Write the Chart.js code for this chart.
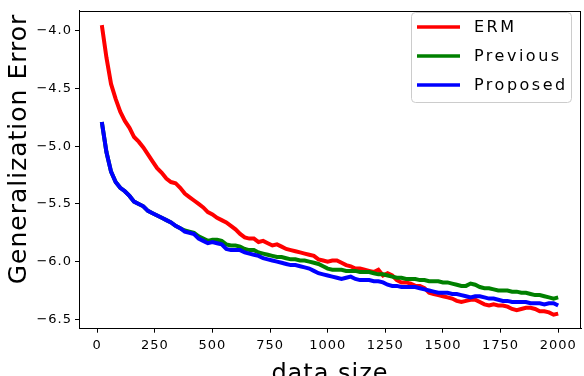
<!DOCTYPE html>
<html>
<head>
<meta charset="utf-8">
<script src="https://cdn.jsdelivr.net/npm/chart.js@4/dist/chart.umd.min.js"></script>
<style>
  html, body { margin: 0; padding: 0; background: #fff; }
  canvas { display: block; }
</style>
</head>
<body>
<canvas id="chart" width="584" height="376"></canvas>
<script>
// data
const dataSizes = [
  20, 40, 60, 80, 100, 120, 140, 160, 180, 200,
  220, 240, 260, 280, 300, 320, 340, 360, 380, 400,
  420, 440, 460, 480, 500, 520, 540, 560, 580, 600,
  620, 640, 660, 680, 700, 720, 740, 760, 780, 800,
  820, 840, 860, 880, 900, 920, 940, 960, 980, 1000,
  1020, 1040, 1060, 1080, 1100, 1120, 1140, 1160, 1180, 1200,
  1220, 1240, 1260, 1280, 1300, 1320, 1340, 1360, 1380, 1400,
  1420, 1440, 1460, 1480, 1500, 1520, 1540, 1560, 1580, 1600,
  1620, 1640, 1660, 1680, 1700, 1720, 1740, 1760, 1780, 1800,
  1820, 1840, 1860, 1880, 1900, 1920, 1940, 1960, 1980, 2000
];
const ermErr = [
  -3.95, -4.23, -4.46, -4.59, -4.70, -4.78, -4.84, -4.92, -4.96, -5.01,
  -5.07, -5.13, -5.19, -5.23, -5.28, -5.31, -5.32, -5.36, -5.41, -5.44,
  -5.47, -5.50, -5.53, -5.57, -5.59, -5.62, -5.64, -5.66, -5.69, -5.72,
  -5.76, -5.79, -5.80, -5.80, -5.83, -5.82, -5.84, -5.86, -5.85, -5.87,
  -5.89, -5.90, -5.91, -5.92, -5.93, -5.94, -5.95, -5.98, -5.99, -6.00,
  -5.99, -5.99, -6.01, -6.03, -6.04, -6.06, -6.06, -6.07, -6.08, -6.09,
  -6.07, -6.12, -6.10, -6.12, -6.16, -6.18, -6.18, -6.19, -6.21, -6.21,
  -6.23, -6.27, -6.28, -6.29, -6.30, -6.31, -6.32, -6.34, -6.35, -6.34,
  -6.33, -6.33, -6.35, -6.37, -6.38, -6.37, -6.38, -6.38, -6.39, -6.41,
  -6.42, -6.41, -6.40, -6.40, -6.41, -6.43, -6.43, -6.44, -6.46, -6.45
];
const previousErr = [
  -4.79, -5.05, -5.22, -5.31, -5.36, -5.39, -5.43, -5.48, -5.50, -5.52,
  -5.56, -5.58, -5.60, -5.62, -5.64, -5.66, -5.69, -5.71, -5.73, -5.74,
  -5.75, -5.78, -5.80, -5.82, -5.81, -5.81, -5.82, -5.85, -5.86, -5.86,
  -5.87, -5.89, -5.90, -5.90, -5.92, -5.93, -5.94, -5.95, -5.96, -5.96,
  -5.97, -5.98, -5.98, -5.99, -5.99, -6.00, -6.01, -6.02, -6.04, -6.06,
  -6.07, -6.07, -6.07, -6.08, -6.08, -6.08, -6.09, -6.09, -6.09, -6.10,
  -6.11, -6.11, -6.12, -6.13, -6.14, -6.14, -6.15, -6.15, -6.15, -6.16,
  -6.16, -6.17, -6.17, -6.17, -6.18, -6.18, -6.19, -6.20, -6.21, -6.21,
  -6.19, -6.20, -6.22, -6.23, -6.23, -6.24, -6.25, -6.25, -6.25, -6.26,
  -6.26, -6.27, -6.27, -6.28, -6.29, -6.29, -6.30, -6.31, -6.32, -6.31
];
const proposedErr = [
  -4.79, -5.05, -5.22, -5.31, -5.36, -5.39, -5.43, -5.48, -5.50, -5.52,
  -5.56, -5.58, -5.60, -5.62, -5.64, -5.66, -5.69, -5.71, -5.74, -5.75,
  -5.76, -5.80, -5.82, -5.84, -5.83, -5.84, -5.85, -5.89, -5.90, -5.90,
  -5.90, -5.92, -5.93, -5.94, -5.95, -5.97, -5.98, -5.99, -6.00, -6.01,
  -6.02, -6.03, -6.03, -6.04, -6.05, -6.06, -6.08, -6.10, -6.11, -6.12,
  -6.13, -6.14, -6.15, -6.14, -6.13, -6.15, -6.16, -6.16, -6.16, -6.17,
  -6.17, -6.18, -6.20, -6.21, -6.21, -6.22, -6.22, -6.22, -6.22, -6.23,
  -6.24, -6.25, -6.26, -6.27, -6.27, -6.27, -6.28, -6.28, -6.29, -6.30,
  -6.31, -6.30, -6.30, -6.31, -6.32, -6.32, -6.33, -6.34, -6.34, -6.35,
  -6.35, -6.35, -6.35, -6.36, -6.36, -6.36, -6.37, -6.36, -6.36, -6.38
];
const seriesNames = ['ERM', 'Previous', 'Proposed'];
const seriesColors = ['#ff0000', '#008000', '#0000ff'];
const xTicks = [0, 250, 500, 750, 1000, 1250, 1500, 1750, 2000];
const yTicks = [-6.5, -6.0, -5.5, -5.0, -4.5, -4.0];
const xTitle = 'data size';
const yTitle = 'Generalization Error';

const FONT = 'DejaVu Sans';
const fmtTick = v => (v < 0 ? '\u2212' : '') + Math.abs(v).toFixed(1);

function toPoints(ys) {
  return dataSizes.map((x, i) => ({ x: x, y: ys[i] }));
}

// spaced-out text like the original render
const spacingPlugin = {
  id: 'spacing',
  beforeLayout(chart) { chart.ctx.letterSpacing = '1px'; },
  beforeDraw(chart) { chart.ctx.letterSpacing = '1px'; }
};

// frame, legend box and axis titles
const decorPlugin = {
  id: 'decor',
  afterDraw(chart) {
    const ctx = chart.ctx;
    const a = chart.chartArea;
    ctx.save();
    ctx.strokeStyle = '#000';
    ctx.lineWidth = 1;
    ctx.strokeRect(Math.round(a.left) + 0.5, Math.round(a.top) + 0.5,
      Math.round(a.right - a.left) - 1, Math.round(a.bottom - a.top) - 1);

    // legend
    ctx.beginPath();
    ctx.roundRect(411.5, 12.5, 160, 90, 4);
    ctx.fillStyle = 'rgba(255,255,255,0.8)';
    ctx.fill();
    ctx.strokeStyle = '#cccccc';
    ctx.stroke();
    ctx.font = '16px "' + FONT + '"';
    ctx.letterSpacing = '2.5px';
    ctx.textBaseline = 'middle';
    ctx.textAlign = 'left';
    chart.data.datasets.forEach((ds, i) => {
      const y = 27 + i * 29;
      ctx.beginPath();
      ctx.moveTo(417, y);
      ctx.lineTo(460, y);
      ctx.strokeStyle = ds.borderColor;
      ctx.lineWidth = 3.5;
      ctx.stroke();
      ctx.fillStyle = '#000';
      ctx.fillText(ds.label, 474, y + 1);
    });

    // axis titles
    ctx.font = '24px "' + FONT + '"';
    ctx.letterSpacing = '1px';
    ctx.fillStyle = '#000';
    ctx.textAlign = 'center';
    ctx.textBaseline = 'alphabetic';
    ctx.fillText(xTitle, (a.left + a.right) / 2, 381);
    ctx.font = '25px "' + FONT + '"';
    ctx.translate(26, 149);
    ctx.rotate(-Math.PI / 2);
    ctx.fillText(yTitle, 0, 0);
    ctx.restore();
  }
};

const axisCommon = {
  type: 'linear',
  grid: { display: true, drawOnChartArea: false, drawTicks: true, tickLength: 4, color: '#000', lineWidth: 1 },
  border: { display: true, color: '#000', width: 1 },
  ticks: { color: '#000', font: { family: FONT, size: 13 }, autoSkip: false, maxRotation: 0 }
};

const ctx = document.getElementById('chart').getContext('2d');
const series = [ermErr, previousErr, proposedErr];
const chart = new Chart(ctx, {
  type: 'line',
  data: {
    datasets: series.map((ys, i) => ({
      label: seriesNames[i],
      data: toPoints(ys),
      borderColor: seriesColors[i],
      backgroundColor: seriesColors[i],
      borderWidth: 4,
      pointRadius: 0,
      tension: 0,
      fill: false,
      order: 3 - i
    }))
  },
  options: {
    responsive: false,
    animation: false,
    devicePixelRatio: 1,
    layout: { padding: { top: 2, right: 3, left: 0, bottom: 0 } },
    plugins: { legend: { display: false }, tooltip: { enabled: false } },
    scales: {
      x: Object.assign({}, axisCommon, {
        min: -79, max: 2099,
        afterBuildTicks: s => { s.ticks = xTicks.map(v => ({ value: v })); },
        afterFit: s => { s.height = 47.3; },
        ticks: Object.assign({}, axisCommon.ticks, { padding: 5, callback: v => String(v) })
      }),
      y: Object.assign({}, axisCommon, {
        min: -6.581, max: -3.826,
        afterBuildTicks: s => { s.ticks = yTicks.map(v => ({ value: v })); },
        afterFit: s => { s.width = 79; },
        ticks: Object.assign({}, axisCommon.ticks, { padding: 3, callback: v => fmtTick(v) })
      })
    }
  },
  plugins: [spacingPlugin, decorPlugin]
});
</script>
</body>
</html>
